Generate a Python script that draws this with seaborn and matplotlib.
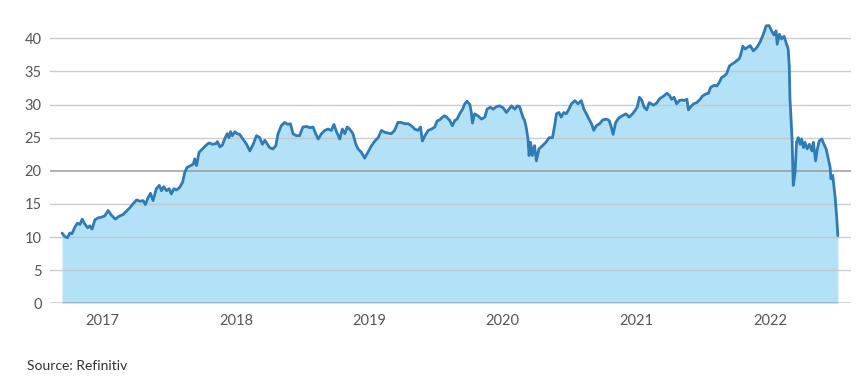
import matplotlib
matplotlib.use("Agg")
import matplotlib.pyplot as plt
import seaborn as sns
import pandas as pd

# --- data (closing price) ---
dates_2016 = ["2016-09-12", "2016-09-19", "2016-09-27", "2016-10-03", "2016-10-09", "2016-10-17",
              "2016-10-24", "2016-10-31", "2016-11-06", "2016-11-13", "2016-11-21", "2016-11-27",
              "2016-12-03", "2016-12-11", "2016-12-20", "2016-12-29"]
values_2016 = [10.6, 10.1, 9.9, 10.6, 10.5, 11.5, 12.1, 11.9, 12.7, 12.0, 11.4, 11.7,
               11.2, 12.6, 12.9, 13.0]

dates_2017 = ["2017-01-07", "2017-01-16", "2017-01-25", "2017-02-05", "2017-02-14", "2017-02-26",
              "2017-03-07", "2017-03-16", "2017-03-25", "2017-04-04", "2017-04-13", "2017-04-22",
              "2017-04-28", "2017-05-05", "2017-05-12", "2017-05-19", "2017-05-28", "2017-06-05",
              "2017-06-11", "2017-06-17", "2017-06-25", "2017-07-02", "2017-07-08", "2017-07-15",
              "2017-07-22", "2017-07-31", "2017-08-08", "2017-08-14", "2017-08-20", "2017-08-30",
              "2017-09-06", "2017-09-10", "2017-09-15", "2017-09-22", "2017-10-01", "2017-10-10",
              "2017-10-19", "2017-10-29", "2017-11-07", "2017-11-11", "2017-11-18", "2017-11-25",
              "2017-12-01", "2017-12-08", "2017-12-13", "2017-12-17", "2017-12-22", "2017-12-29"]
values_2017 = [13.2, 14.0, 13.3, 12.7, 13.1, 13.4, 13.9, 14.4, 15.0, 15.6, 15.4, 15.5,
               14.9, 15.9, 16.6, 15.5, 17.3, 17.8, 17.0, 17.6, 17.0, 17.3, 16.5, 17.3,
               17.1, 17.5, 18.3, 19.8, 20.5, 20.8, 21.0, 21.8, 20.8, 22.8, 23.3, 23.8,
               24.2, 24.0, 24.1, 24.4, 23.6, 23.9, 24.8, 25.6, 25.0, 25.9, 25.3, 25.9]

dates_2018 = ["2018-01-04", "2018-01-11", "2018-01-20", "2018-01-30", "2018-02-08", "2018-02-17",
              "2018-02-26", "2018-03-07", "2018-03-14", "2018-03-21", "2018-03-27", "2018-04-03",
              "2018-04-12", "2018-04-20", "2018-04-26", "2018-05-05", "2018-05-14", "2018-05-23",
              "2018-05-30", "2018-06-06", "2018-06-15", "2018-06-24", "2018-07-03", "2018-07-13",
              "2018-07-22", "2018-07-31", "2018-08-07", "2018-08-14", "2018-08-23", "2018-09-01",
              "2018-09-10", "2018-09-19", "2018-09-26", "2018-10-03", "2018-10-12", "2018-10-19",
              "2018-10-26", "2018-11-01", "2018-11-08", "2018-11-17", "2018-11-25", "2018-12-01",
              "2018-12-10", "2018-12-19", "2018-12-28"]
values_2018 = [25.6, 25.5, 24.8, 24.0, 23.0, 24.0, 25.3, 25.0, 24.0, 24.6, 24.1, 23.5,
               23.3, 23.8, 25.6, 26.8, 27.3, 27.0, 27.1, 25.6, 25.3, 25.3, 26.6, 26.7,
               26.5, 26.6, 25.6, 24.8, 25.6, 26.1, 26.3, 26.1, 27.0, 25.9, 24.8, 26.3,
               25.6, 26.6, 26.3, 25.6, 24.0, 23.3, 22.8, 21.9, 22.8]

dates_2019 = ["2019-01-07", "2019-01-16", "2019-01-25", "2019-02-03", "2019-02-12", "2019-02-21",
              "2019-03-02", "2019-03-11", "2019-03-20", "2019-03-29", "2019-04-08", "2019-04-17",
              "2019-04-26", "2019-05-05", "2019-05-14", "2019-05-21", "2019-05-26", "2019-06-02",
              "2019-06-11", "2019-06-20", "2019-06-29", "2019-07-05", "2019-07-13", "2019-07-20",
              "2019-07-26", "2019-08-02", "2019-08-09", "2019-08-16", "2019-08-23", "2019-08-29",
              "2019-09-05", "2019-09-13", "2019-09-19", "2019-09-25", "2019-10-03", "2019-10-07",
              "2019-10-10", "2019-10-16", "2019-10-25", "2019-11-04", "2019-11-13", "2019-11-19",
              "2019-11-28", "2019-12-06", "2019-12-15", "2019-12-24"]
values_2019 = [23.8, 24.5, 25.0, 26.1, 25.8, 25.7, 25.6, 26.1, 27.3, 27.3, 27.1, 27.1,
               26.8, 26.3, 26.1, 26.6, 24.5, 25.3, 26.1, 26.3, 26.6, 27.5, 27.7, 28.1,
               28.3, 28.0, 27.6, 26.8, 27.6, 27.8, 28.6, 29.3, 30.1, 30.5, 30.0, 28.8,
               27.2, 28.6, 28.3, 27.8, 28.1, 29.3, 29.6, 29.3, 29.7, 29.8]

dates_2020 = ["2020-01-02", "2020-01-11", "2020-01-18", "2020-01-25", "2020-02-03", "2020-02-10",
              "2020-02-16", "2020-02-21", "2020-02-25", "2020-03-01", "2020-03-06", "2020-03-10",
              "2020-03-13", "2020-03-17", "2020-03-22", "2020-03-28", "2020-04-02", "2020-04-09",
              "2020-04-19", "2020-04-28", "2020-05-07", "2020-05-16", "2020-05-22", "2020-05-27",
              "2020-06-03", "2020-06-09", "2020-06-16", "2020-06-23", "2020-06-30", "2020-07-07",
              "2020-07-16", "2020-07-25", "2020-08-03", "2020-08-10", "2020-08-17", "2020-08-24",
              "2020-08-31", "2020-09-06", "2020-09-13", "2020-09-22", "2020-10-01", "2020-10-11",
              "2020-10-18", "2020-10-24", "2020-10-29", "2020-11-05", "2020-11-14", "2020-11-23",
              "2020-12-03", "2020-12-12", "2020-12-21", "2020-12-28"]
values_2020 = [29.5, 28.8, 29.3, 29.8, 29.3, 29.8, 29.7, 28.8, 28.1, 27.6, 26.3, 24.8,
               22.3, 24.3, 22.3, 23.8, 21.5, 23.3, 23.8, 24.3, 25.0, 25.0, 26.8, 28.6,
               28.8, 28.1, 28.8, 28.6, 29.3, 30.1, 30.6, 30.1, 30.6, 29.3, 28.6, 27.8,
               27.1, 26.1, 26.8, 27.1, 27.7, 27.8, 27.6, 26.6, 25.5, 27.3, 28.0, 28.3,
               28.6, 28.1, 28.6, 29.1]

dates_2021 = ["2021-01-03", "2021-01-09", "2021-01-15", "2021-01-22", "2021-01-29", "2021-02-05",
              "2021-02-16", "2021-02-25", "2021-03-04", "2021-03-11", "2021-03-17", "2021-03-25",
              "2021-04-01", "2021-04-07", "2021-04-14", "2021-04-21", "2021-04-28", "2021-05-05",
              "2021-05-11", "2021-05-19", "2021-05-23", "2021-05-30", "2021-06-06", "2021-06-15",
              "2021-06-24", "2021-07-01", "2021-07-10", "2021-07-17", "2021-07-23", "2021-08-01",
              "2021-08-09", "2021-08-16", "2021-08-22", "2021-08-29", "2021-09-05", "2021-09-12",
              "2021-09-19", "2021-09-25", "2021-10-02", "2021-10-09", "2021-10-13", "2021-10-19",
              "2021-10-25", "2021-10-31", "2021-11-08", "2021-11-17", "2021-11-26", "2021-12-05",
              "2021-12-14", "2021-12-22", "2021-12-30"]
values_2021 = [29.6, 31.1, 30.7, 29.6, 29.2, 30.3, 29.9, 30.2, 30.8, 31.1, 31.3, 31.7,
               31.4, 30.8, 31.1, 30.1, 30.6, 30.7, 30.6, 30.8, 29.2, 29.7, 30.1, 30.3,
               30.8, 31.3, 31.6, 31.7, 32.6, 32.9, 32.8, 33.4, 34.1, 34.3, 34.7, 35.8,
               36.1, 36.3, 36.6, 36.9, 37.5, 38.8, 38.4, 38.6, 38.9, 38.1, 38.6, 39.4,
               40.6, 41.9, 41.9]

dates_2022 = ["2022-01-06", "2022-01-12", "2022-01-18", "2022-01-21", "2022-01-27", "2022-02-02",
              "2022-02-09", "2022-02-14", "2022-02-20", "2022-02-23", "2022-02-25", "2022-02-27",
              "2022-03-03", "2022-03-05", "2022-03-06", "2022-03-11", "2022-03-15", "2022-03-20",
              "2022-03-25", "2022-03-29", "2022-04-03", "2022-04-07", "2022-04-13", "2022-04-19",
              "2022-04-26", "2022-04-30", "2022-05-06", "2022-05-11", "2022-05-16", "2022-05-23",
              "2022-05-29", "2022-06-04", "2022-06-10", "2022-06-15", "2022-06-17", "2022-06-22",
              "2022-06-26", "2022-06-29", "2022-07-03", "2022-07-06"]
values_2022 = [41.1, 40.5, 41.1, 39.1, 40.6, 39.9, 40.3, 39.4, 38.4, 35.8, 30.8, 28.8,
               24.3, 19.8, 17.8, 19.8, 24.3, 25.0, 24.0, 24.8, 23.5, 24.3, 23.3, 24.0,
               23.0, 24.3, 21.5, 23.3, 24.5, 24.8, 24.0, 23.3, 21.8, 20.5, 18.8, 19.3,
               17.3, 15.8, 12.8, 10.2]

y_ticks = [0, 5, 10, 15, 20, 25, 30, 35, 40]
x_tick_years = [2017, 2018, 2019, 2020, 2021, 2022]
source_text = "Source: Refinitiv"

# --- build table ---
all_dates = dates_2016 + dates_2017 + dates_2018 + dates_2019 + dates_2020 + dates_2021 + dates_2022
all_values = values_2016 + values_2017 + values_2018 + values_2019 + values_2020 + values_2021 + values_2022
df = pd.DataFrame({"date": pd.to_datetime(all_dates), "price": all_values})

sns.set_theme(style="white")
plt.rcParams["font.family"] = ["Lato", "DejaVu Sans"]

fig = plt.figure(figsize=(8.66, 3.84), dpi=100)
ax = fig.add_axes([50 / 866, (384 - 303.3) / 384, (851 - 50) / 866, (303.3 - 15.1) / 384])

FILL = "#b3e1f7"
LINE = "#2f7bb6"

ax.fill_between(df["date"], df["price"], 0, color=FILL, linewidth=0, zorder=1)
for yt in y_ticks[1:]:
    ax.axhline(yt, color="#9a9a9a" if yt == 20 else "#c4c4c4",
               linewidth=1.3 if yt == 20 else 1.0, zorder=2, alpha=0.85)
sns.lineplot(data=df, x="date", y="price", ax=ax, color=LINE, linewidth=2.0, zorder=3)
ax.axhline(0, color="#1a1a1a", linewidth=1.0, zorder=4)

ax.set_xlim(pd.Timestamp("2016-08-10"), pd.Timestamp("2022-08-11"))
ax.set_ylim(0, 43.5)
ax.set_yticks(y_ticks)
ax.set_yticklabels([str(v) for v in y_ticks])
ax.set_xticks([pd.Timestamp(f"{y}-01-01") for y in x_tick_years])
ax.set_xticklabels([str(y) for y in x_tick_years])

ax.tick_params(axis="y", length=0, pad=6, labelsize=10.5, labelcolor="#555555")
ax.tick_params(axis="x", length=0, pad=8, labelsize=10.5, labelcolor="#555555")
for s in ax.spines.values():
    s.set_visible(False)
ax.set_xlabel("")
ax.set_ylabel("")
ax.grid(False)

fig.text(27 / 866, 1 - 366 / 384, source_text, fontsize=10, color="#333333",
         ha="left", va="center")

fig.savefig("out.png", dpi=100)
